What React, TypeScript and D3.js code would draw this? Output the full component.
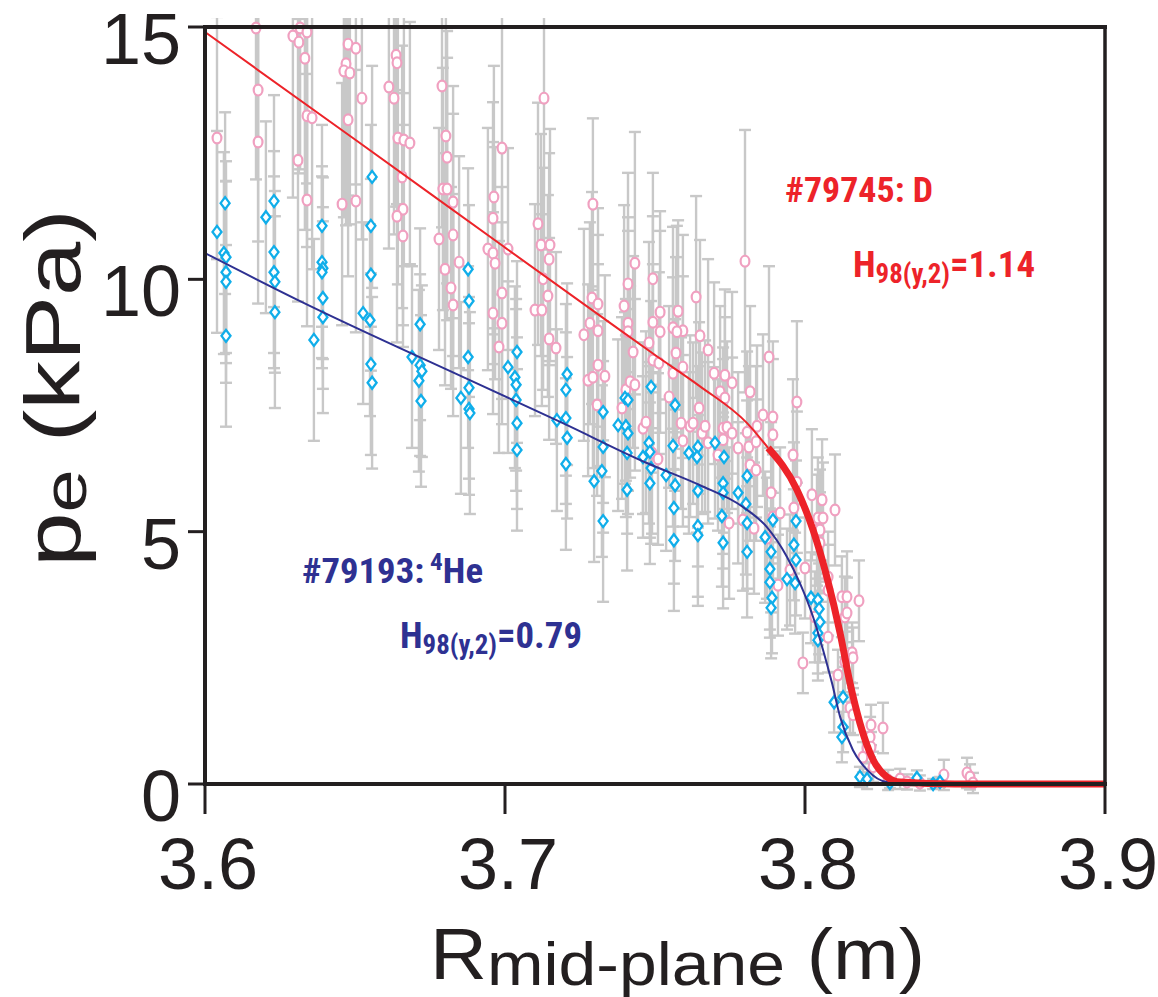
import React from "react";
import * as d3 from "d3";

// ---------- DATA (R in m, pe in kPa, error in kPa) ----------
const xTicks = [3.6, 3.7, 3.8, 3.9];
const yTicks = [0, 5, 10, 15];

// #79745 (D) – pink circles: [R, pe, err]
const deuteriumPoints: [number, number, number][] = [
  [3.617, 14.98, 3.0], [3.6293, 14.82, 3.2], [3.6317, 14.98, 2.8], [3.634, 14.9, 3.0], [3.6313, 14.7, 2.6],
  [3.6333, 14.38, 3.4], [3.6177, 13.75, 3.0], [3.604, 12.8, 2.4], [3.6177, 12.72, 3.2], [3.631, 12.36, 2.8],
  [3.634, 13.24, 2.6], [3.6357, 13.2, 3.0], [3.634, 11.57, 2.5], [3.6477, 14.66, 3.0], [3.6503, 14.58, 2.7],
  [3.647, 14.27, 3.2], [3.6463, 14.13, 2.9], [3.6483, 14.09, 3.0], [3.6523, 13.59, 2.8], [3.6477, 13.16, 3.1],
  [3.6457, 11.49, 2.4], [3.6503, 11.55, 2.6], [3.6637, 14.44, 3.0], [3.664, 14.29, 2.8], [3.6613, 13.81, 3.2],
  [3.663, 13.59, 2.7], [3.6643, 12.8, 2.9], [3.6663, 12.76, 2.5], [3.6683, 12.7, 2.4], [3.6657, 12.03, 2.6],
  [3.666, 11.39, 2.3], [3.664, 11.25, 2.5], [3.666, 10.86, 2.2], [3.679, 13.83, 2.8], [3.6803, 12.84, 2.7],
  [3.6807, 12.42, 2.5], [3.6793, 11.79, 2.4], [3.6807, 11.79, 2.6], [3.6827, 11.53, 2.3], [3.678, 10.8, 2.2],
  [3.6827, 10.88, 2.4], [3.6847, 10.34, 2.1], [3.68, 10.2, 2.3], [3.682, 9.83, 2.0], [3.6827, 9.49, 2.2],
  [3.6943, 10.6, 2.4], [3.696, 10.52, 2.2], [3.6963, 11.63, 2.6], [3.696, 11.21, 2.3], [3.699, 12.6, 2.9],
  [3.701, 10.6, 2.0], [3.699, 9.73, 2.1], [3.696, 9.33, 2.0], [3.6967, 10.32, 2.3], [3.713, 13.59, 3.0],
  [3.711, 11.1, 2.4], [3.712, 10.68, 2.2], [3.715, 10.68, 2.3], [3.7147, 10.4, 2.1], [3.7127, 10.01, 2.2],
  [3.7143, 9.67, 2.0], [3.71, 9.39, 2.1], [3.7123, 9.39, 1.9], [3.7293, 11.49, 1.7], [3.729, 9.63, 2.1],
  [3.731, 9.51, 1.9], [3.7433, 10.32, 2.6], [3.741, 9.91, 2.2], [3.7397, 9.47, 2.0], [3.7493, 10.01, 2.1],
  [3.7517, 9.35, 2.0], [3.7577, 9.37, 1.8], [3.7637, 9.65, 2.0], [3.78, 10.36, 2.6], [3.699, 9.13, 2.0],
  [3.698, 8.66, 2.1], [3.7147, 8.82, 2.0], [3.717, 8.64, 1.9], [3.7283, 9.13, 2.0], [3.7263, 8.9, 2.1],
  [3.731, 8.98, 1.9], [3.731, 8.3, 2.0], [3.7277, 8.0, 1.9], [3.7293, 8.06, 1.8], [3.7333, 8.08, 2.0],
  [3.7307, 7.51, 1.8], [3.741, 9.13, 2.1], [3.741, 8.96, 2.0], [3.7427, 8.56, 1.9], [3.7403, 7.81, 1.8],
  [3.7417, 7.97, 1.9], [3.7433, 7.91, 1.7], [3.739, 7.45, 1.8], [3.748, 8.74, 2.0], [3.7493, 8.4, 1.9],
  [3.7513, 8.34, 1.8], [3.7493, 9.15, 2.1], [3.7517, 8.96, 2.0], [3.746, 7.05, 1.7], [3.747, 7.17, 1.8],
  [3.749, 6.56, 1.6], [3.751, 6.44, 1.7], [3.756, 9.04, 2.0], [3.7593, 8.98, 1.9], [3.7573, 8.96, 2.1],
  [3.757, 8.54, 1.9], [3.7593, 8.26, 1.8], [3.756, 8.14, 1.9], [3.7547, 7.67, 1.8], [3.7587, 7.15, 1.7],
  [3.7617, 7.09, 1.8], [3.7627, 7.15, 1.6], [3.7593, 6.8, 1.7], [3.765, 8.88, 1.9], [3.7677, 8.6, 1.8],
  [3.7647, 7.45, 1.7], [3.7657, 6.95, 1.6], [3.7667, 7.09, 1.7], [3.7677, 6.76, 1.6], [3.7697, 8.14, 1.8],
  [3.7733, 8.1, 1.7], [3.7757, 7.95, 1.8], [3.7717, 7.77, 1.7], [3.7733, 7.65, 1.6], [3.7727, 7.05, 1.6],
  [3.774, 7.07, 1.7], [3.7757, 6.95, 1.5], [3.7727, 6.82, 1.6], [3.771, 6.52, 1.5], [3.7817, 7.77, 1.7],
  [3.7777, 6.66, 1.5], [3.7813, 6.68, 1.6], [3.7837, 6.78, 1.5], [3.7807, 6.97, 1.6], [3.7817, 6.32, 1.5],
  [3.7837, 6.22, 1.4], [3.786, 7.31, 1.6], [3.7893, 7.27, 1.5], [3.7893, 6.92, 1.5], [3.788, 8.46, 1.8],
  [3.7887, 5.77, 1.4], [3.7747, 5.17, 1.5], [3.7793, 5.23, 1.4], [3.783, 5.07, 1.3], [3.7893, 5.29, 1.3],
  [3.7873, 4.87, 1.2], [3.7973, 7.57, 1.6], [3.784, 7.09, 1.6], [3.796, 6.52, 1.5], [3.7973, 5.98, 1.4],
  [3.8023, 5.73, 1.3], [3.8057, 5.63, 1.2], [3.81, 5.43, 1.1], [3.7917, 5.37, 1.3], [3.7963, 5.47, 1.3],
  [3.8043, 5.27, 1.2], [3.806, 5.27, 1.1], [3.804, 5.03, 1.1], [3.805, 5.03, 1.2], [3.805, 4.78, 1.0],
  [3.8, 4.28, 1.0], [3.795, 4.24, 1.1], [3.791, 3.94, 1.0], [3.8077, 4.1, 0.9], [3.8077, 3.84, 0.9],
  [3.8123, 3.71, 0.8], [3.814, 3.71, 0.9], [3.818, 3.63, 0.8], [3.8133, 3.31, 0.8], [3.814, 3.39, 0.7],
  [3.8033, 3.31, 0.9], [3.8077, 2.91, 0.7], [3.8157, 2.6, 0.6], [3.816, 2.5, 0.6], [3.7993, 2.4, 0.6],
  [3.8133, 2.42, 0.6], [3.811, 2.16, 0.5], [3.815, 1.51, 0.5], [3.816, 1.37, 0.4], [3.822, 1.17, 0.4],
  [3.826, 1.11, 0.5], [3.8217, 0.93, 0.4], [3.8207, 0.71, 0.3], [3.8193, 0.53, 0.3], [3.8227, 0.34, 0.3],
  [3.822, 0.73, 0.3], [3.8277, 0.08, 0.2], [3.8317, 0.1, 0.2], [3.834, 0.04, 0.15], [3.8383, 0.02, 0.15],
  [3.8463, 0.18, 0.3], [3.854, 0.22, 0.3], [3.855, 0.14, 0.25], [3.856, 0.02, 0.2],
];

// #79193 (4He) – cyan diamonds: [R, pe, err]
const heliumPoints: [number, number, number][] = [
  [3.604, 10.94, 2.0], [3.6067, 11.51, 1.8], [3.6063, 10.52, 2.0], [3.607, 10.44, 1.9], [3.607, 10.14, 1.8],
  [3.607, 9.95, 2.0], [3.607, 8.88, 1.8], [3.623, 11.55, 2.1], [3.6203, 11.23, 1.9], [3.623, 10.54, 2.0],
  [3.623, 10.14, 1.9], [3.6233, 9.95, 1.8], [3.6233, 9.35, 1.9], [3.6363, 8.8, 2.0], [3.6393, 9.25, 1.9],
  [3.639, 11.06, 2.0], [3.639, 10.34, 1.9], [3.6393, 10.22, 1.8], [3.639, 10.14, 1.9], [3.6393, 9.63, 1.8],
  [3.6557, 12.03, 2.2], [3.6553, 11.06, 2.0], [3.6553, 10.09, 1.9], [3.6527, 9.33, 1.8], [3.655, 9.19, 1.9],
  [3.6553, 8.32, 1.8], [3.6557, 7.95, 1.7], [3.669, 8.46, 1.8], [3.6717, 9.11, 1.9], [3.6717, 8.3, 1.8],
  [3.6723, 8.18, 1.7], [3.6713, 7.99, 1.8], [3.672, 7.59, 1.7], [3.6853, 7.65, 1.9], [3.6877, 8.46, 1.8],
  [3.688, 7.85, 1.8], [3.688, 7.43, 1.7], [3.6883, 7.35, 2.0], [3.6877, 10.2, 2.0], [3.688, 9.57, 1.9],
  [3.704, 8.56, 1.8], [3.701, 8.26, 1.7], [3.7033, 8.06, 1.8], [3.7037, 7.91, 1.7], [3.7037, 7.61, 1.8],
  [3.704, 7.15, 1.7], [3.704, 6.62, 1.6], [3.7207, 8.12, 1.8], [3.7203, 7.81, 1.7], [3.7173, 7.21, 1.8],
  [3.7203, 7.25, 1.7], [3.7207, 6.86, 1.6], [3.7203, 6.34, 1.7], [3.7297, 6.0, 1.6], [3.7323, 6.2, 1.7],
  [3.7327, 7.37, 1.8], [3.7327, 6.68, 1.7], [3.7327, 5.21, 1.6], [3.7377, 7.11, 1.7], [3.7403, 7.09, 1.8],
  [3.741, 6.95, 1.6], [3.7407, 5.83, 1.6], [3.74, 7.65, 1.7], [3.741, 7.61, 1.8], [3.7407, 6.56, 1.6],
  [3.7487, 7.87, 1.7], [3.748, 6.76, 1.6], [3.7483, 6.58, 1.7], [3.746, 6.48, 1.6], [3.7487, 6.26, 1.5],
  [3.7483, 5.96, 1.6], [3.7537, 6.12, 1.5], [3.7567, 7.51, 1.7], [3.756, 6.7, 1.6], [3.7567, 5.92, 1.5],
  [3.7563, 5.47, 1.5], [3.7563, 4.83, 1.4], [3.7613, 6.56, 1.6], [3.7643, 6.68, 1.6], [3.764, 6.48, 1.5],
  [3.7643, 5.81, 1.5], [3.7643, 5.11, 1.4], [3.7643, 4.93, 1.4], [3.77, 6.76, 1.5], [3.773, 6.48, 1.5],
  [3.7727, 5.96, 1.4], [3.7727, 5.77, 1.5], [3.7723, 5.31, 1.4], [3.7727, 4.78, 1.3], [3.7777, 5.77, 1.4],
  [3.7807, 6.1, 1.5], [3.7803, 5.55, 1.4], [3.7807, 5.17, 1.3], [3.7807, 4.6, 1.3], [3.7867, 4.89, 1.3],
  [3.7893, 5.23, 1.3], [3.7887, 4.6, 1.2], [3.7883, 4.26, 1.2], [3.7883, 4.0, 1.1], [3.789, 3.69, 1.1],
  [3.7887, 3.49, 1.0], [3.797, 5.21, 1.2], [3.7963, 4.74, 1.1], [3.797, 4.44, 1.1], [3.794, 4.06, 1.0],
  [3.7967, 3.98, 1.0], [3.802, 3.69, 0.9], [3.8043, 3.65, 0.9], [3.8047, 3.47, 0.9], [3.805, 3.21, 0.8],
  [3.8043, 2.99, 0.8], [3.8043, 2.85, 0.8], [3.8097, 1.62, 0.6], [3.8127, 1.72, 0.6], [3.8127, 1.13, 0.5],
  [3.8123, 0.93, 0.5], [3.8183, 0.14, 0.2], [3.8207, 0.1, 0.2], [3.8283, 0.02, 0.1], [3.8373, 0.12, 0.15],
  [3.8427, 0.0, 0.1], [3.845, 0.04, 0.1],
];

// fitted profiles: [R, pe]
const deuteriumFit: [number, number][] = [
  [3.6, 14.9], [3.65, 12.77], [3.7, 10.63], [3.73, 9.35], [3.75, 8.5], [3.765, 7.88], [3.7807, 7.15],
  [3.7877, 6.66], [3.7973, 5.83], [3.8027, 5.03], [3.8073, 4.1], [3.8117, 2.99], [3.815, 2.0],
  [3.8183, 1.21], [3.8227, 0.48], [3.8273, 0.14], [3.8317, 0.04], [3.85, 0.0], [3.9, 0.0],
];
const deuteriumFitThickFrom = 3.7877;

const heliumFit: [number, number][] = [
  [3.6, 10.52], [3.631, 9.59], [3.6917, 7.91], [3.7193, 7.15], [3.7473, 6.36], [3.765, 5.92],
  [3.7793, 5.49], [3.7873, 5.09], [3.794, 4.5], [3.7983, 3.98], [3.8027, 3.31], [3.806, 2.66],
  [3.809, 2.0], [3.8117, 1.33], [3.816, 0.67], [3.8207, 0.28], [3.8273, 0.04], [3.84, 0.0], [3.9, 0.0],
];

// ---------- STYLE ----------
const RED = "#ed2329";
const NAVY = "#2e3192";
const PINK = "#f0a0c0";
const CYAN = "#10aeea";
const GRAY = "#c8c8c8";
const AXIS = "#231f20";

export default function App() {
  const W = 1158, H = 997;
  const x = d3.scaleLinear().domain([3.6, 3.9]).range([205, 1105]);
  const y = d3.scaleLinear().domain([0, 15]).range([784, 27]);

  const line = d3
    .line<[number, number]>()
    .x((d) => x(d[0]))
    .y((d) => y(d[1]))
    .curve(d3.curveMonotoneX);

  const dThin = deuteriumFit.filter((d) => d[0] <= deuteriumFitThickFrom);
  const dThick = deuteriumFit.filter((d) => d[0] >= deuteriumFitThickFrom);

  const allPts = [...deuteriumPoints, ...heliumPoints];
  const cap = 6;
  const tickFont = "'Liberation Sans', Arial, Helvetica, sans-serif";
  const annFont = "'Liberation Sans Narrow', 'Roboto Condensed', 'Liberation Sans', Arial, sans-serif";

  const diamond = (cx: number, cy: number) =>
    `M${cx},${cy - 6}L${cx + 4.5},${cy}L${cx},${cy + 6}L${cx - 4.5},${cy}Z`;

  return (
    <svg
      width={W}
      height={H}
      viewBox={`0 0 ${W} ${H}`}
      style={{ position: "absolute", left: 0, top: 0, background: "#fff" }}
    >
      <defs>
        <clipPath id="barClip">
          <rect x={150} y={18} width={1000} height={900} />
        </clipPath>
      </defs>

      {/* error bars */}
      <g clipPath="url(#barClip)" stroke={GRAY} strokeWidth={2.4} fill="none">
        {allPts.map((d, i) => {
          const cx = x(d[0]);
          const y1 = y(d[1] + d[2]);
          const y2 = y(Math.max(d[1] - d[2], -0.3));
          return (
            <g key={i}>
              <line x1={cx} x2={cx} y1={y1} y2={y2} />
              <line x1={cx - cap} x2={cx + cap} y1={y1} y2={y1} />
              <line x1={cx - cap} x2={cx + cap} y1={y2} y2={y2} />
            </g>
          );
        })}
      </g>

      {/* D points */}
      <g fill="#fff" stroke={PINK} strokeWidth={2.2}>
        {deuteriumPoints.map((d, i) => (
          <ellipse key={i} cx={x(d[0])} cy={y(d[1])} rx={4.4} ry={5.4} />
        ))}
      </g>

      {/* He points */}
      <g fill="#fff" stroke={CYAN} strokeWidth={2.3}>
        {heliumPoints.map((d, i) => (
          <path key={i} d={diamond(x(d[0]), y(d[1]))} />
        ))}
      </g>

      {/* fits */}
      <path d={line(heliumFit) || ""} fill="none" stroke={NAVY} strokeWidth={2} />
      <path d={line(dThin) || ""} fill="none" stroke={RED} strokeWidth={2} />
      <path d={line(dThick) || ""} fill="none" stroke={RED} strokeWidth={7} strokeLinejoin="round" />

      {/* frame */}
      <g stroke={AXIS} fill="none">
        <line x1={205} x2={205} y1={25} y2={786} strokeWidth={4} />
        <line x1={203} x2={1107} y1={784} y2={784} strokeWidth={4} />
        <line x1={205} x2={1107} y1={27} y2={27} strokeWidth={4} />
        <line x1={1105} x2={1105} y1={27} y2={786} strokeWidth={3.5} />
        {xTicks.map((t) => (
          <line key={t} x1={x(t)} x2={x(t)} y1={784} y2={814} strokeWidth={3} />
        ))}
        {yTicks.map((t) => (
          <line key={t} x1={188} x2={205} y1={y(t)} y2={y(t)} strokeWidth={3} />
        ))}
      </g>

      {/* tick labels */}
      <g fill={AXIS} fontFamily={tickFont} fontSize={72}>
        {xTicks.map((t) => (
          <text key={t} x={x(t) + 3} y={889} textAnchor="middle">
            {t.toFixed(1)}
          </text>
        ))}
        {yTicks.map((t) => (
          <text key={t} x={181} y={y(t) + 37} textAnchor="end">
            {t}
          </text>
        ))}
      </g>

      {/* axis titles */}
      <text
        x={430}
        y={979}
        fill={AXIS}
        fontFamily={tickFont}
        fontSize={72}
        textLength={495}
        lengthAdjust="spacingAndGlyphs"
      >
        R
        <tspan fontSize={62} dy={6}>mid-plane</tspan>
        <tspan dy={-6}> (m)</tspan>
      </text>
      <text
        transform="translate(80,388) rotate(-90) scale(1.25,1)"
        textAnchor="middle"
        fill={AXIS}
        fontFamily={tickFont}
        fontSize={78}
      >
        p
        <tspan fontSize={62} dy={6}>e</tspan>
        <tspan dy={-6}> (kPa)</tspan>
      </text>

      {/* annotations */}
      <g fontFamily={annFont} fontWeight="bold">
        <text x={785} y={202} fill={RED} fontSize={35} textLength={148} lengthAdjust="spacingAndGlyphs">
          #79745: D
        </text>
        <text x={853} y={277} fill={RED} fontSize={37} textLength={182} lengthAdjust="spacingAndGlyphs">
          H<tspan fontSize={27} dy={6}>98(y,2)</tspan>
          <tspan dy={-6}>=1.14</tspan>
        </text>
        <text x={302} y={583} fill={NAVY} fontSize={35} textLength={181} lengthAdjust="spacingAndGlyphs">
          #79193:<tspan fontSize={24} dy={-13}> 4</tspan>
          <tspan dy={13}>He</tspan>
        </text>
        <text x={400} y={648} fill={NAVY} fontSize={37} textLength={182} lengthAdjust="spacingAndGlyphs">
          H<tspan fontSize={27} dy={6}>98(y,2)</tspan>
          <tspan dy={-6}>=0.79</tspan>
        </text>
      </g>
    </svg>
  );
}
